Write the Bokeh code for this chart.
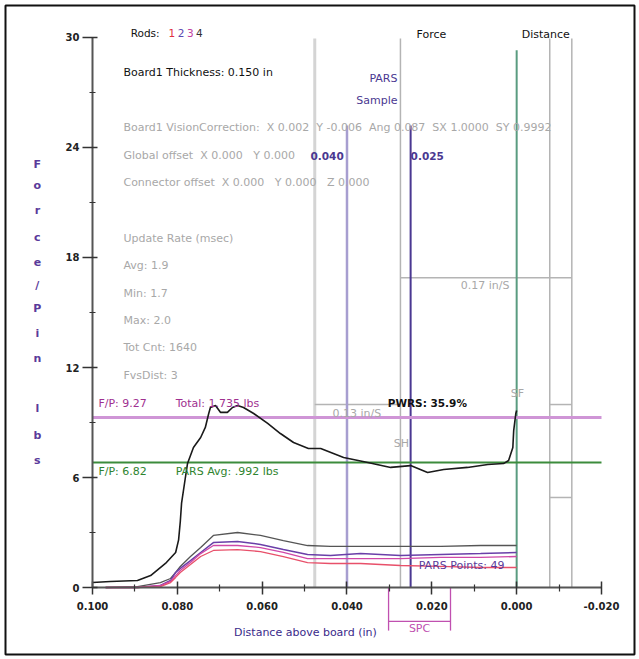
from bokeh.plotting import figure
from bokeh.models import (Label, FixedTicker, NumeralTickFormatter, Range1d, BoxAnnotation,
                          LinearAxis, Grid)
from bokeh.embed import file_html
from bokeh.resources import INLINE

# ---------------- data ----------------
# total force curve (distance above board in inches, force per pin lbs)
total_dist = [0.1000, 0.0958, 0.0894, 0.0863, 0.0828, 0.0804, 0.0797, 0.0793, 0.0790, 0.0781, 0.0776,
              0.0762, 0.0745, 0.0734, 0.0726, 0.0722, 0.0710, 0.0698, 0.0682, 0.0670, 0.0658,
              0.0644, 0.0620, 0.0587, 0.0557, 0.0526, 0.0491, 0.0462, 0.0408, 0.0351, 0.0297,
              0.0250, 0.0210, 0.0172, 0.0116, 0.0068, 0.0031, 0.0019, 0.0009, 0.0007, 0.0002, 0.0000]
total_force = [0.27, 0.33, 0.38, 0.65, 1.31, 1.91, 2.60, 3.60, 4.60, 6.00, 6.76,
               7.64, 8.18, 8.73, 9.49, 9.82, 9.93, 9.55, 9.55, 9.82, 9.93,
               9.82, 9.49, 8.95, 8.40, 7.91, 7.58, 7.58, 7.09, 6.82, 6.55,
               6.65, 6.27, 6.44, 6.55, 6.71, 6.76, 6.93, 7.64, 8.56, 9.49, 9.65]

rod_dist = [0.0969, 0.0894, 0.0840, 0.0816, 0.0804, 0.0793, 0.0769, 0.0745, 0.0715, 0.0658,
            0.0604, 0.0550, 0.0493, 0.0439, 0.0368, 0.0274, 0.0179, 0.0085, 0.0000]
rod1 = [0.00, 0.00, 0.05, 0.27, 0.55, 0.82, 1.25, 1.69, 2.02, 2.07,
        1.96, 1.69, 1.36, 1.31, 1.31, 1.20, 1.15, 1.09, 1.09]
rod2 = [0.00, 0.00, 0.11, 0.38, 0.82, 1.04, 1.47, 1.91, 2.45, 2.51,
        2.35, 2.07, 1.80, 1.75, 1.85, 1.75, 1.80, 1.85, 1.91]
rod3 = [0.00, 0.00, 0.11, 0.33, 0.65, 0.93, 1.36, 1.85, 2.29, 2.29,
        2.18, 1.91, 1.58, 1.58, 1.58, 1.58, 1.64, 1.64, 1.69]
rod4 = [0.00, 0.05, 0.27, 0.49, 0.82, 1.15, 1.69, 2.18, 2.84, 3.00,
        2.84, 2.56, 2.29, 2.24, 2.24, 2.24, 2.24, 2.29, 2.29]

fp_high = 9.27
fp_low = 6.82
pars_sample = [0.040, 0.025]
board_zero = 0.000
ref_lines = [0.0476, 0.0274, -0.0078, -0.0130]
speed_segments_x0 = [0.0274, 0.0476, -0.0078, -0.0078]
speed_segments_x1 = [-0.0130, 0.0274, -0.0130, -0.0130]
speed_segments_y = [16.9, 9.98, 9.98, 4.91]
spc_window = [0.0302, 0.0156]

x_major = [0.100, 0.080, 0.060, 0.040, 0.020, 0.000, -0.020]
x_minor = [0.090, 0.070, 0.050, 0.030, 0.010, -0.010]
y_major = [0, 6, 12, 18, 24, 30]
y_minor = [3, 9, 15, 21, 27]

FONT = "DejaVu Sans"

# the frame covers the whole canvas; axes are pinned at x=0.100 and y=0
p = figure(width=639, height=659, min_border=0,
           x_range=Range1d(0.121689, -0.028959), y_range=Range1d(-3.927, 32.018),
           x_axis_location=None, y_axis_location=None,
           output_backend="svg", toolbar_location=None)
p.background_fill_color = "white"
p.border_fill_color = "white"
p.outline_line_color = None
for r in list(p.center):
    if isinstance(r, Grid):
        r.visible = False

xaxis = LinearAxis(fixed_location=0, bounds=(-0.020, 0.100),
                   ticker=FixedTicker(ticks=x_major, minor_ticks=x_minor),
                   formatter=NumeralTickFormatter(format="0.000"))
yaxis = LinearAxis(fixed_location=0.100, bounds=(0, 30),
                   ticker=FixedTicker(ticks=y_major, minor_ticks=y_minor))
for ax in (xaxis, yaxis):
    ax.axis_line_color = "#555555"
    ax.axis_line_width = 2
    ax.major_tick_line_color = "#333333"
    ax.major_tick_line_width = 1.5
    ax.minor_tick_line_color = "#333333"
    ax.minor_tick_line_width = 1.2
    ax.major_label_text_font = FONT
    ax.major_label_text_font_size = "10px"
    ax.major_label_text_color = "#222222"
    ax.major_label_text_font_style = "bold"
xaxis.major_tick_out = 7
xaxis.major_tick_in = 6
xaxis.minor_tick_out = 4
xaxis.minor_tick_in = 3
xaxis.major_label_standoff = 7
yaxis.major_tick_out = 10
yaxis.major_tick_in = 5
yaxis.minor_tick_out = 3
yaxis.minor_tick_in = 3
yaxis.major_label_standoff = 3
p.add_layout(xaxis, "below")
p.add_layout(yaxis, "left")

# reference vertical lines
p.segment(x0=ref_lines[0:1], x1=ref_lines[0:1], y0=[0], y1=[29.95], line_color="#d4d4d4", line_width=3)
p.segment(x0=ref_lines[1:], x1=ref_lines[1:], y0=[0, 0, 0], y1=[29.95, 29.95, 29.95],
          line_color="#b4b4b4", line_width=1.5)
# speed segments
p.segment(x0=speed_segments_x0, x1=speed_segments_x1, y0=speed_segments_y, y1=speed_segments_y,
          line_color="#b4b4b4", line_width=1.5)
# PARS sample lines
p.segment(x0=pars_sample[0:1], x1=pars_sample[0:1], y0=[0], y1=[25.2], line_color="#a79ed0", line_width=2.5)
p.segment(x0=pars_sample[1:], x1=pars_sample[1:], y0=[0], y1=[25.2], line_color="#4a3891", line_width=2)
# board zero
p.segment(x0=[board_zero], x1=[board_zero], y0=[0], y1=[29.3], line_color="#5a9c80", line_width=2)

# F/P horizontal lines
p.segment(x0=[0.100], x1=[-0.020], y0=[fp_high], y1=[fp_high], line_color="#cf95d6", line_width=3)
p.segment(x0=[0.100], x1=[-0.020], y0=[fp_low], y1=[fp_low], line_color="#3c8c3c", line_width=2)

# rod curves
p.line(rod_dist, rod4, line_color="#555555", line_width=1.3)
p.line(rod_dist, rod2, line_color="#6a3fa8", line_width=1.5)
p.line(rod_dist, rod3, line_color="#d048a8", line_width=1.3)
p.line(rod_dist, rod1, line_color="#e8506a", line_width=1.3)
# total curve
p.line(total_dist, total_force, line_color="#1a1a1a", line_width=1.6)

# SPC bracket below the axis
p.segment(x0=[spc_window[0], spc_window[1], spc_window[0]],
          x1=[spc_window[0], spc_window[1], spc_window[1]],
          y0=[0, 0, -1.85], y1=[-2.35, -2.35, -1.85], line_color="#c050b0", line_width=1.3)


def lab(x, y, text, color, size="11px", bold=False, align="left"):
    p.add_layout(Label(x=x, y=y, text=text, text_color=color, text_font=FONT,
                       text_font_size=size, text_font_style="bold" if bold else "normal",
                       text_align=align, text_baseline="middle"))


GRAY = "#a8a8a8"
NB = "\u00a0"
lab(0.0910, 30.22, "Rods:", "#111111", size="10.5px")
lab(0.0821, 30.22, "1", "#e03040", size="10.5px")
lab(0.0799, 30.22, "2", "#5a48b0", size="10.5px")
lab(0.0777, 30.22, "3", "#c040a0", size="10.5px")
lab(0.0756, 30.22, "4", "#333333", size="10.5px")
lab(0.0927, 28.09, "Board1 Thickness: 0.150 in", "#111111")
lab(0.0927, 25.09, "Board1 VisionCorrection:" + NB * 2 + "X 0.002" + NB * 2 + "Y -0.006" + NB * 2
    + "Ang 0.087" + NB * 2 + "SX 1.0000" + NB * 2 + "SY 0.9992", GRAY)
lab(0.0927, 23.56, "Global offset" + NB * 2 + "X 0.000" + NB * 3 + "Y 0.000", GRAY)
lab(0.0486, 23.56, "0.040", "#4a3891", bold=True, size="10.5px")
lab(0.0250, 23.56, "0.025", "#4a3891", bold=True, size="10.5px")
lab(0.0927, 22.09, "Connector offset" + NB * 2 + "X 0.000" + NB * 3 + "Y 0.000" + NB * 3 + "Z 0.000", GRAY)
lab(0.0927, 19.04, "Update Rate (msec)", GRAY)
lab(0.0927, 17.56, "Avg: 1.9", GRAY)
lab(0.0927, 16.04, "Min: 1.7", GRAY)
lab(0.0927, 14.56, "Max: 2.0", GRAY)
lab(0.0927, 13.09, "Tot Cnt: 1640", GRAY)
lab(0.0927, 11.56, "FvsDist: 3", GRAY)
lab(0.0986, 10.04, "F/P: 9.27", "#a03090")
lab(0.0804, 10.04, "Total: 1.735 lbs", "#a03090")
lab(0.0986, 6.33, "F/P: 6.82", "#2f842f")
lab(0.0804, 6.33, "PARS Avg: .992 lbs", "#2f842f")
lab(0.0304, 10.09, "PWRS: 35.9%", "#111111", bold=True, size="10.5px")
lab(0.0434, 9.49, "0.13 in/S", GRAY)
lab(0.0132, 16.47, "0.17 in/S", GRAY)
lab(0.0290, 7.85, "SH", GRAY)
lab(0.0014, 10.58, "SF", GRAY)
lab(0.0236, 30.16, "Force", "#111111")
lab(-0.0012, 30.16, "Distance", "#111111")
lab(0.0281, 27.76, "PARS", "#4a3891", align="right")
lab(0.0281, 26.56, "Sample", "#4a3891", align="right")
lab(0.0231, 1.20, "PARS Points: 49", "#5a3a9a")
lab(0.0229, -2.24, "SPC", "#c050b0", align="center")
lab(0.0498, -2.45, "Distance above board (in)", "#3a2a8a", align="center")

ylabel_letters = ["F", "o", "r", "c", "e", "/", "P", "i", "n", "l", "b", "s"]
ylabel_pos = [23.07, 21.93, 20.56, 19.09, 17.73, 16.47, 15.22, 13.85, 12.49, 9.76, 8.29, 6.93]
for ch, yy in zip(ylabel_letters, ylabel_pos):
    lab(0.1130, yy, ch, "#5a3a9a", bold=True, align="center")

# outer border
p.add_layout(BoxAnnotation(left=0.12051, right=-0.02778, top=31.745, bottom=-3.655,
                           fill_alpha=0, line_color="#111111", line_width=2, line_alpha=1))

open("out.html", "w").write(file_html(p, INLINE))
